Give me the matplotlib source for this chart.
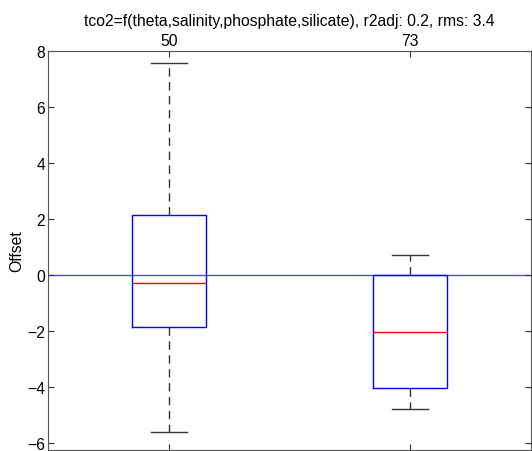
import matplotlib
matplotlib.use("Agg")
import matplotlib.pyplot as plt

plt.rcParams["font.family"] = ["Liberation Sans", "DejaVu Sans"]

# box statistics
labels = ["50", "73"]
medians = [-0.29, -2.04]
q1 = [-1.86, -4.04]
q3 = [2.14, 0.0]
whisker_low = [-5.6, -4.79]
whisker_high = [7.57, 0.71]
title = "tco2=f(theta,salinity,phosphate,silicate), r2adj: 0.2, rms: 3.4"

stats = []
for i in range(len(labels)):
    stats.append(dict(med=medians[i], q1=q1[i], q3=q3[i],
                      whislo=whisker_low[i], whishi=whisker_high[i],
                      fliers=[], label=labels[i]))

fig = plt.figure(figsize=(5.32, 4.52), dpi=100)
ax = fig.add_axes([48 / 532, 1 - 451 / 452, (531 - 48) / 532, (451 - 52) / 452])

ax.axhline(0, color="#0000ff", linewidth=1.0, alpha=0.7, zorder=1)

ax.bxp(stats, positions=[1, 2], widths=0.305, showfliers=False,
       boxprops=dict(color="#0000ff", linewidth=1.0),
       medianprops=dict(color="#ff0000", linewidth=1.0),
       whiskerprops=dict(color="#333333", linewidth=1.0, linestyle=(0, (6, 4))),
       capprops=dict(color="#333333", linewidth=1.0),
       capwidths=0.15, zorder=2)

ax.set_xlim(0.5, 2.5)
ax.set_ylim(-6.25, 8)
ax.set_yticks(range(-6, 9, 2))
ax.set_xticks([1, 2])
ax.set_xticklabels(labels)
ax.xaxis.tick_top()
ax.tick_params(axis="both", direction="in", length=4, width=0.8, color="#333333",
               labelsize=11.3, top=True, bottom=True, left=True, right=True,
               labeltop=True, labelbottom=False, pad=2)
for s in ax.spines.values():
    s.set_color("#555555")
    s.set_linewidth(0.8)

ax.set_ylabel("Offset", fontsize=11.3, labelpad=2)
ax.set_title(title, fontsize=11.3, pad=19)

fig.savefig("out.png", dpi=100)
